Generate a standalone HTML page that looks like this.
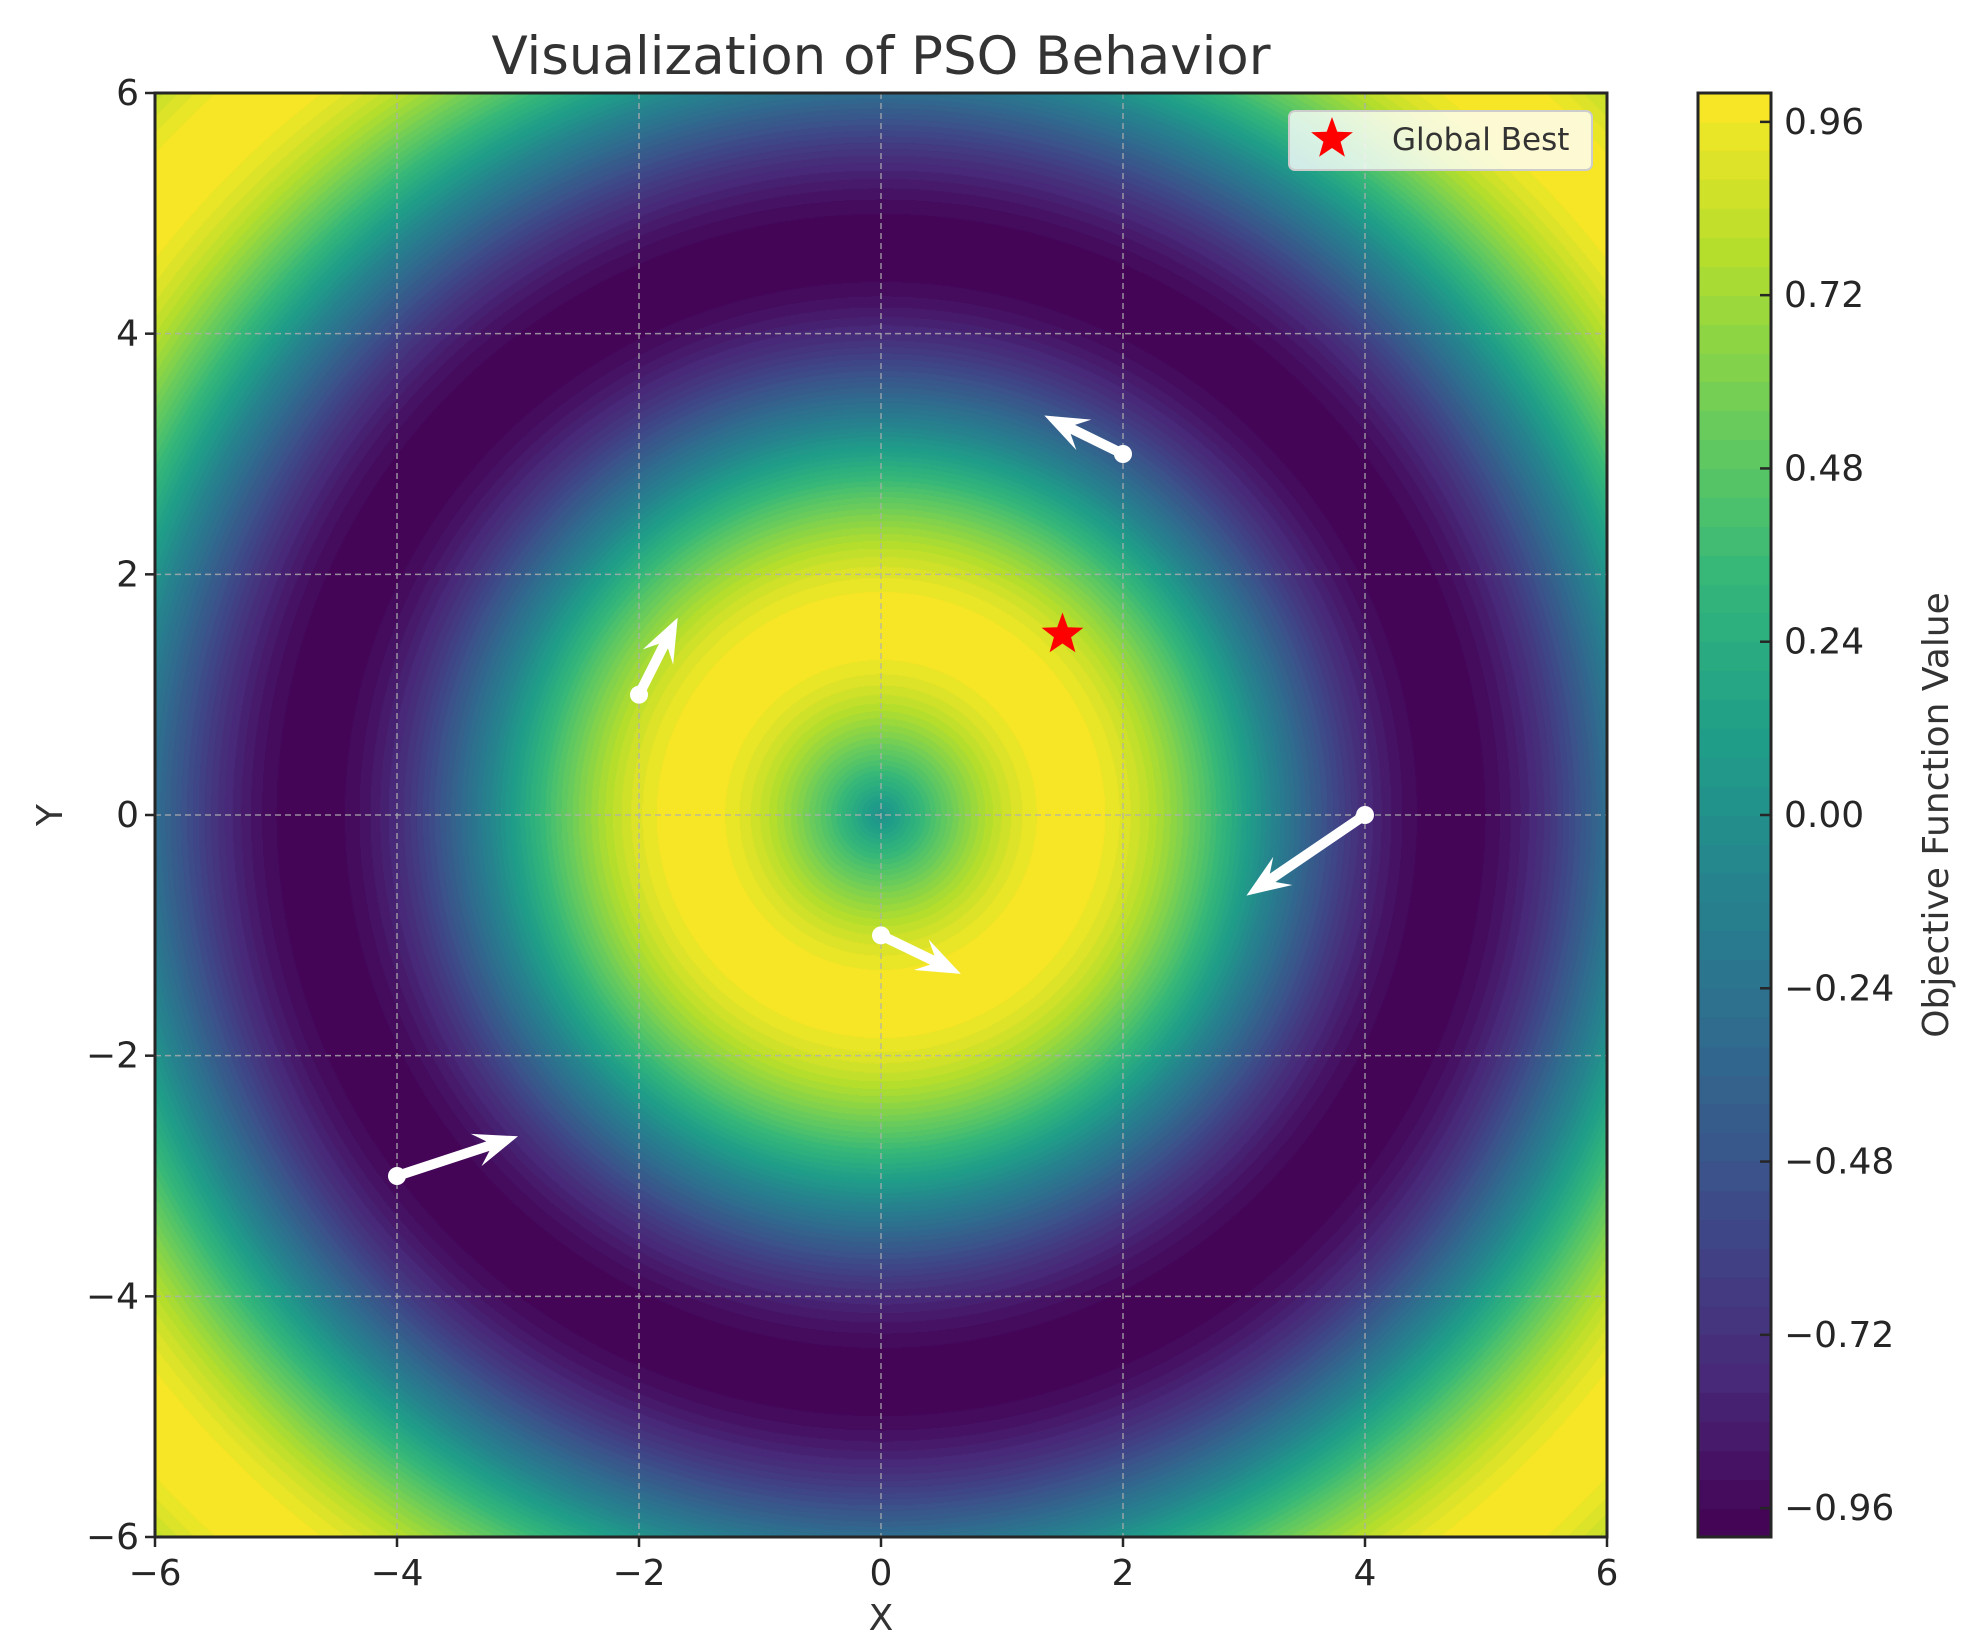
<!DOCTYPE html>
<html><head><meta charset="utf-8"><style>
html,body{margin:0;padding:0;background:#fff;}
#wrap{position:relative;width:1974px;height:1650px;overflow:hidden;font-family:"DejaVu Sans","Liberation Sans",sans-serif;}
canvas{position:absolute;}
svg{position:absolute;left:0;top:0;}
</style></head><body>
<div id="wrap">
<canvas id="heat" width="1452" height="1444" style="left:155px;top:93px"></canvas>
<canvas id="cbar" width="73" height="1444" style="left:1698px;top:93px"></canvas>
<svg id="svg" width="1974" height="1650"></svg>
</div>
<script>
// data
const xTicks = [-6,-4,-2,0,2,4,6];
const yTicks = [-6,-4,-2,0,2,4,6];
const cbTicks = [0.96,0.72,0.48,0.24,0.00,-0.24,-0.48,-0.72,-0.96];
const cbTickLabels = ["0.96","0.72","0.48","0.24","0.00","\u22120.24","\u22120.48","\u22120.72","\u22120.96"];
const particleX = [-4,-2,0,2,4];
const particleY = [-3,1,-1,3,0];
const velocityX = [1.0,0.32,0.66,-0.65,-0.98];
const velocityY = [0.33,0.64,-0.32,0.32,-0.67];
const globalBest = [1.5,1.5];
const levelMin = -1, levelMax = 1, levelCount = 50;

const L=155,R=1607,T=93,B=1537;
const xs=v=>L+(v+6)/12*(R-L);
const ys=v=>B-(v+6)/12*(B-T);
const cs=v=>B-(v-levelMin)/(levelMax-levelMin)*(B-T);

const vir=[[68,1,84],[72,40,120],[62,74,137],[49,104,142],[38,130,142],[31,158,137],[53,183,121],[109,205,89],[180,222,44],[253,231,37]];
function cmap(t){t=Math.max(0,Math.min(1,t));const p=t*(vir.length-1);const i=Math.min(vir.length-2,Math.floor(p));const f=p-i;
return vir[i].map((c,k)=>Math.round(c+(vir[i+1][k]-c)*f));}
function quant(v){const step=(levelMax-levelMin)/levelCount;let k=Math.floor((v-levelMin)/step);k=Math.max(0,Math.min(levelCount-1,k));return (k+0.5)/levelCount;}

// heatmap
(function(){const c=document.getElementById('heat');const ctx=c.getContext('2d');const W=c.width,H=c.height;
const img=ctx.createImageData(W,H);
for(let j=0;j<H;j++){const y=6-12*(j+0.5)/H;for(let i=0;i<W;i++){const x=-6+12*(i+0.5)/W;
const col=cmap(quant(Math.sin(Math.sqrt(x*x+y*y))));const o=(j*W+i)*4;img.data[o]=col[0];img.data[o+1]=col[1];img.data[o+2]=col[2];img.data[o+3]=255;}}
ctx.putImageData(img,0,0);
const cb=document.getElementById('cbar').getContext('2d');
for(let k=0;k<levelCount;k++){const v0=levelMin+k*(levelMax-levelMin)/levelCount,v1=v0+(levelMax-levelMin)/levelCount;
const col=cmap((k+0.5)/levelCount);cb.fillStyle=`rgb(${col})`;const y0=cs(v1)-T,y1=cs(v0)-T;cb.fillRect(0,Math.floor(y0),73,Math.ceil(y1-y0)+1);}
})();

const NS='http://www.w3.org/2000/svg';const svg=document.getElementById('svg');
function mk(tag,attrs,parent){const e=document.createElementNS(NS,tag);for(const k in attrs)e.setAttribute(k,attrs[k]);(parent||svg).appendChild(e);return e;}

// grid
xTicks.forEach(t=>{const g=mk('line',{x1:xs(t),x2:xs(t),y1:T,y2:B,stroke:'#b0b0b0','stroke-width':1.5,'stroke-dasharray':'6,4',opacity:0.8});

});
yTicks.forEach(t=>{const g=mk('line',{x1:L,x2:R,y1:ys(t),y2:ys(t),stroke:'#b0b0b0','stroke-width':1.5,'stroke-dasharray':'6,4',opacity:0.8});

});

// arrows
for(let i=0;i<particleX.length;i++){
  const x0=xs(particleX[i]),y0=ys(particleY[i]),x1=xs(particleX[i]+velocityX[i]),y1=ys(particleY[i]+velocityY[i]);
  const dx=x1-x0,dy=y1-y0,len=Math.hypot(dx,dy),ux=dx/len,uy=dy/len,nx=-uy,ny=ux;
  const hl=Math.min(44,len*0.6),hw=17,sw=5,bx=x1-ux*hl,by=y1-uy*hl,bx2=x1-ux*hl*0.72,by2=y1-uy*hl*0.72;
  const pts=[[x0+nx*sw,y0+ny*sw],[bx2+nx*sw,by2+ny*sw],[bx+nx*hw,by+ny*hw],[x1,y1],[bx-nx*hw,by-ny*hw],[bx2-nx*sw,by2-ny*sw],[x0-nx*sw,y0-ny*sw]];
  const a=mk('polygon',{points:pts.map(p=>p.join(',')).join(' '),fill:'#fff'});
  
  
  const d=mk('circle',{cx:x0,cy:y0,r:9,fill:'#fff'});
  
  
}
function starPts(cx,cy,ro,ri){const p=[];for(let k=0;k<10;k++){const r=k%2?ri:ro;const a=-Math.PI/2+k*Math.PI/5;p.push((cx+r*Math.cos(a)).toFixed(1)+','+(cy+r*Math.sin(a)).toFixed(1));}return p.join(' ');}
const st=mk('polygon',{points:starPts(xs(globalBest[0]),ys(globalBest[1]),22,9),fill:'#ff0000'});



// axes frame
mk('rect',{x:L,y:T,width:R-L,height:B-T,fill:'none',stroke:'#262626','stroke-width':3});
xTicks.forEach((t,i)=>{const l=mk('line',{x1:xs(t),x2:xs(t),y1:B,y2:B+10,stroke:'#262626','stroke-width':2.5});
const tx=mk('text',{x:xs(t),y:B+48,'font-size':36,'text-anchor':'middle',fill:'#262626'});tx.textContent=t<0?'\u2212'+(-t):String(t);

});
yTicks.forEach(t=>{mk('line',{x1:L-10,x2:L,y1:ys(t),y2:ys(t),stroke:'#262626','stroke-width':2.5});
const tx=mk('text',{x:L-16,y:ys(t)+12,'font-size':36,'text-anchor':'end',fill:'#262626'});tx.textContent=t<0?'\u2212'+(-t):String(t);

});

// colorbar frame & ticks
mk('rect',{x:1698,y:T,width:73,height:B-T,fill:'none',stroke:'#262626','stroke-width':3});
cbTicks.forEach((t,i)=>{mk('line',{x1:1760,x2:1771,y1:cs(t),y2:cs(t),stroke:'#262626','stroke-width':2.5});
const tx=mk('text',{x:1784,y:cs(t)+12,'font-size':36,fill:'#262626'});tx.textContent=cbTickLabels[i];

});

// legend
const lg=mk('g',{});
mk('rect',{x:1289,y:111,width:303,height:59,rx:6,fill:'#ffffff','fill-opacity':0.8,stroke:'#cccccc','stroke-width':2},lg);
mk('polygon',{points:starPts(1332,139,22,9),fill:'#ff0000'},lg);
const lt=mk('text',{x:1392,y:150,'font-size':31,fill:'#333'},lg);lt.textContent='Global Best';

// labels
const title=mk('text',{x:(L+R)/2,y:74,'font-size':53,'text-anchor':'middle',fill:'#333'});title.textContent='Visualization of PSO Behavior';

const xl=mk('text',{x:(L+R)/2,y:1630,'font-size':36,'text-anchor':'middle',fill:'#333'});xl.textContent='X';

const yl=mk('text',{x:0,y:0,'font-size':36,'text-anchor':'middle',fill:'#333',transform:`translate(62,${(T+B)/2}) rotate(-90)`});yl.textContent='Y';

const cl=mk('text',{x:0,y:0,'font-size':36,'text-anchor':'middle',fill:'#333',transform:`translate(1948,${(T+B)/2}) rotate(-90)`});cl.textContent='Objective Function Value';

</script>
</body></html>
